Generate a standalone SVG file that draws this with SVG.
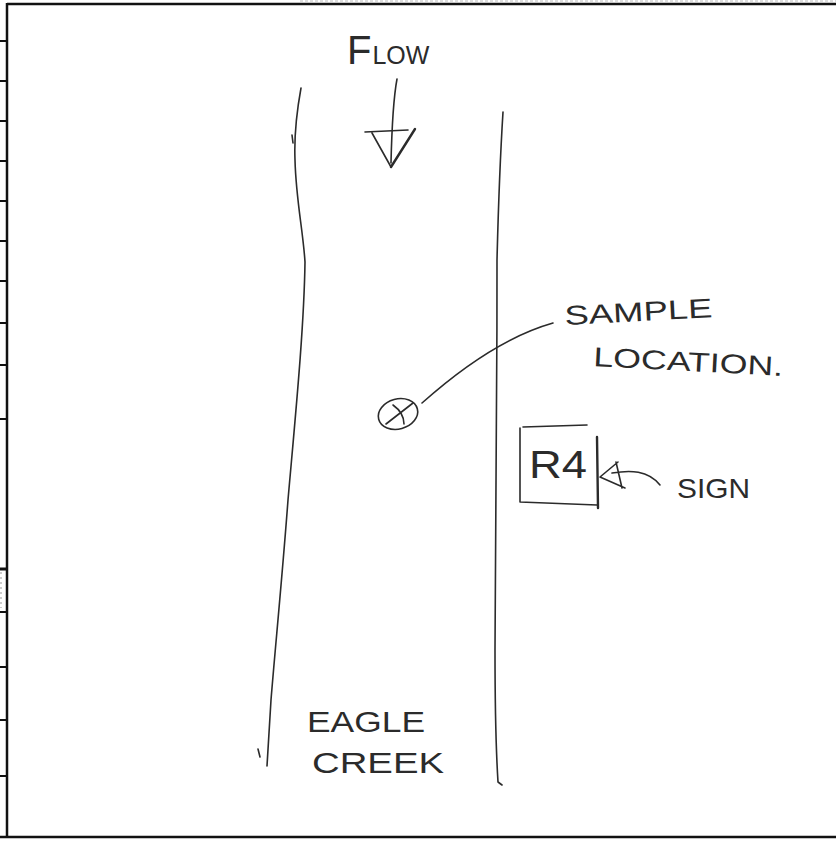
<svg xmlns="http://www.w3.org/2000/svg" width="836" height="841" viewBox="0 0 836 841">
<style>
.frame{stroke:#111;stroke-width:2.5;fill:none}
.tick{stroke:#111;stroke-width:2}
.pen{stroke:#2b2b2b;stroke-width:1.6;fill:none;stroke-linecap:round;stroke-linejoin:round}
.bold{stroke-width:2.4}
.hand{font-family:"Liberation Sans","DejaVu Sans",sans-serif;fill:#2b2b2b;font-weight:normal}
</style>
<rect width="836" height="841" fill="#fff"/>
<g id="frame">
<line x1="300" y1="1" x2="836" y2="1" stroke="#bbb" stroke-width="1" stroke-dasharray="3 2"/>
<line class="frame" x1="7" y1="4" x2="836" y2="4"/>
<line class="frame" x1="7" y1="3" x2="7" y2="837"/>
<line class="frame" x1="0" y1="837" x2="836" y2="837" stroke-width="3"/>
<line x1="1" y1="572" x2="1" y2="608" stroke="#bbb" stroke-width="1.5" stroke-dasharray="2 3"/>
<g class="tick">
<line x1="0" y1="41" x2="7" y2="41"/>
<line x1="0" y1="81" x2="7" y2="81"/>
<line x1="0" y1="121" x2="7" y2="121"/>
<line x1="0" y1="161" x2="7" y2="161"/>
<line x1="0" y1="201" x2="7" y2="201"/>
<line x1="0" y1="241" x2="7" y2="241"/>
<line x1="0" y1="281" x2="7" y2="281"/>
<line x1="0" y1="323" x2="7" y2="323"/>
<line x1="0" y1="365" x2="7" y2="365"/>
<line x1="0" y1="419" x2="7" y2="419"/>
<line x1="0" y1="569" x2="7" y2="569" stroke-width="3"/>
<line x1="0" y1="612" x2="7" y2="612"/>
<line x1="0" y1="667" x2="7" y2="667"/>
<line x1="0" y1="720" x2="7" y2="720"/>
<line x1="0" y1="776" x2="7" y2="776"/>
</g>
</g>
<g id="river">
<path class="pen" d="M301,88 C297,110 294,135 295,160 C296,200 303,230 305,262 C304,330 295,420 288,500 C282,580 275,650 271,700 C269,730 268,750 267,766"/>
<path class="pen" d="M292,135 L293,143 M258,749 L260,757"/>
<path class="pen" d="M503,112 C500,160 498,220 497,260 C497,400 496,550 495,650 C495,700 496,750 498,782 L502,785"/>
</g>
<g id="flow">
<text class="hand" x="347" y="64"><tspan font-size="40">F</tspan><tspan font-size="25" dx="1">LOW</tspan></text>
<path class="pen" d="M397,79 C394,95 392,120 391,163"/>
<path class="pen" d="M365,132 L408,130 M372,133 L391,167"/>
<path class="pen bold" d="M391,167 L415,129"/>
</g>
<g id="sample">
<ellipse class="pen" cx="398" cy="414" rx="20" ry="15" transform="rotate(-15 398 414)"/>
<path class="pen" d="M386,424 L413,403 M393,405 C400,410 404,416 404,424"/>
<text class="hand" x="565" y="325" font-size="27" textLength="148" lengthAdjust="spacingAndGlyphs" transform="rotate(-3 565 325)">SAMPLE</text>
<text class="hand" x="593" y="366" font-size="27" textLength="190" lengthAdjust="spacingAndGlyphs" transform="rotate(3 593 366)">LOCATION.</text>
</g>
<g id="sign">
<path class="pen" d="M523,427 L587,425 M520,428 L520,502 L597,505"/>
<path class="pen bold" d="M597,437 L598,508"/>
<text class="hand" x="529" y="478" font-size="38" textLength="58" lengthAdjust="spacingAndGlyphs">R4</text>
<text class="hand" x="677" y="498" font-size="28" textLength="73" lengthAdjust="spacingAndGlyphs">SIGN</text>
</g>
<g id="connectors">
<path class="pen" d="M422,403 C450,378 500,338 553,323"/>
<path class="pen" d="M618,462 L600,477 L625,488 M616,462 L622,488 M612,473 C630,470 648,470 660,485"/>
</g>
<g id="name">
<text class="hand" x="307" y="732" font-size="30" textLength="118" lengthAdjust="spacingAndGlyphs">EAGLE</text>
<text class="hand" x="312" y="773" font-size="30" textLength="132" lengthAdjust="spacingAndGlyphs">CREEK</text>
</g>
</svg>
